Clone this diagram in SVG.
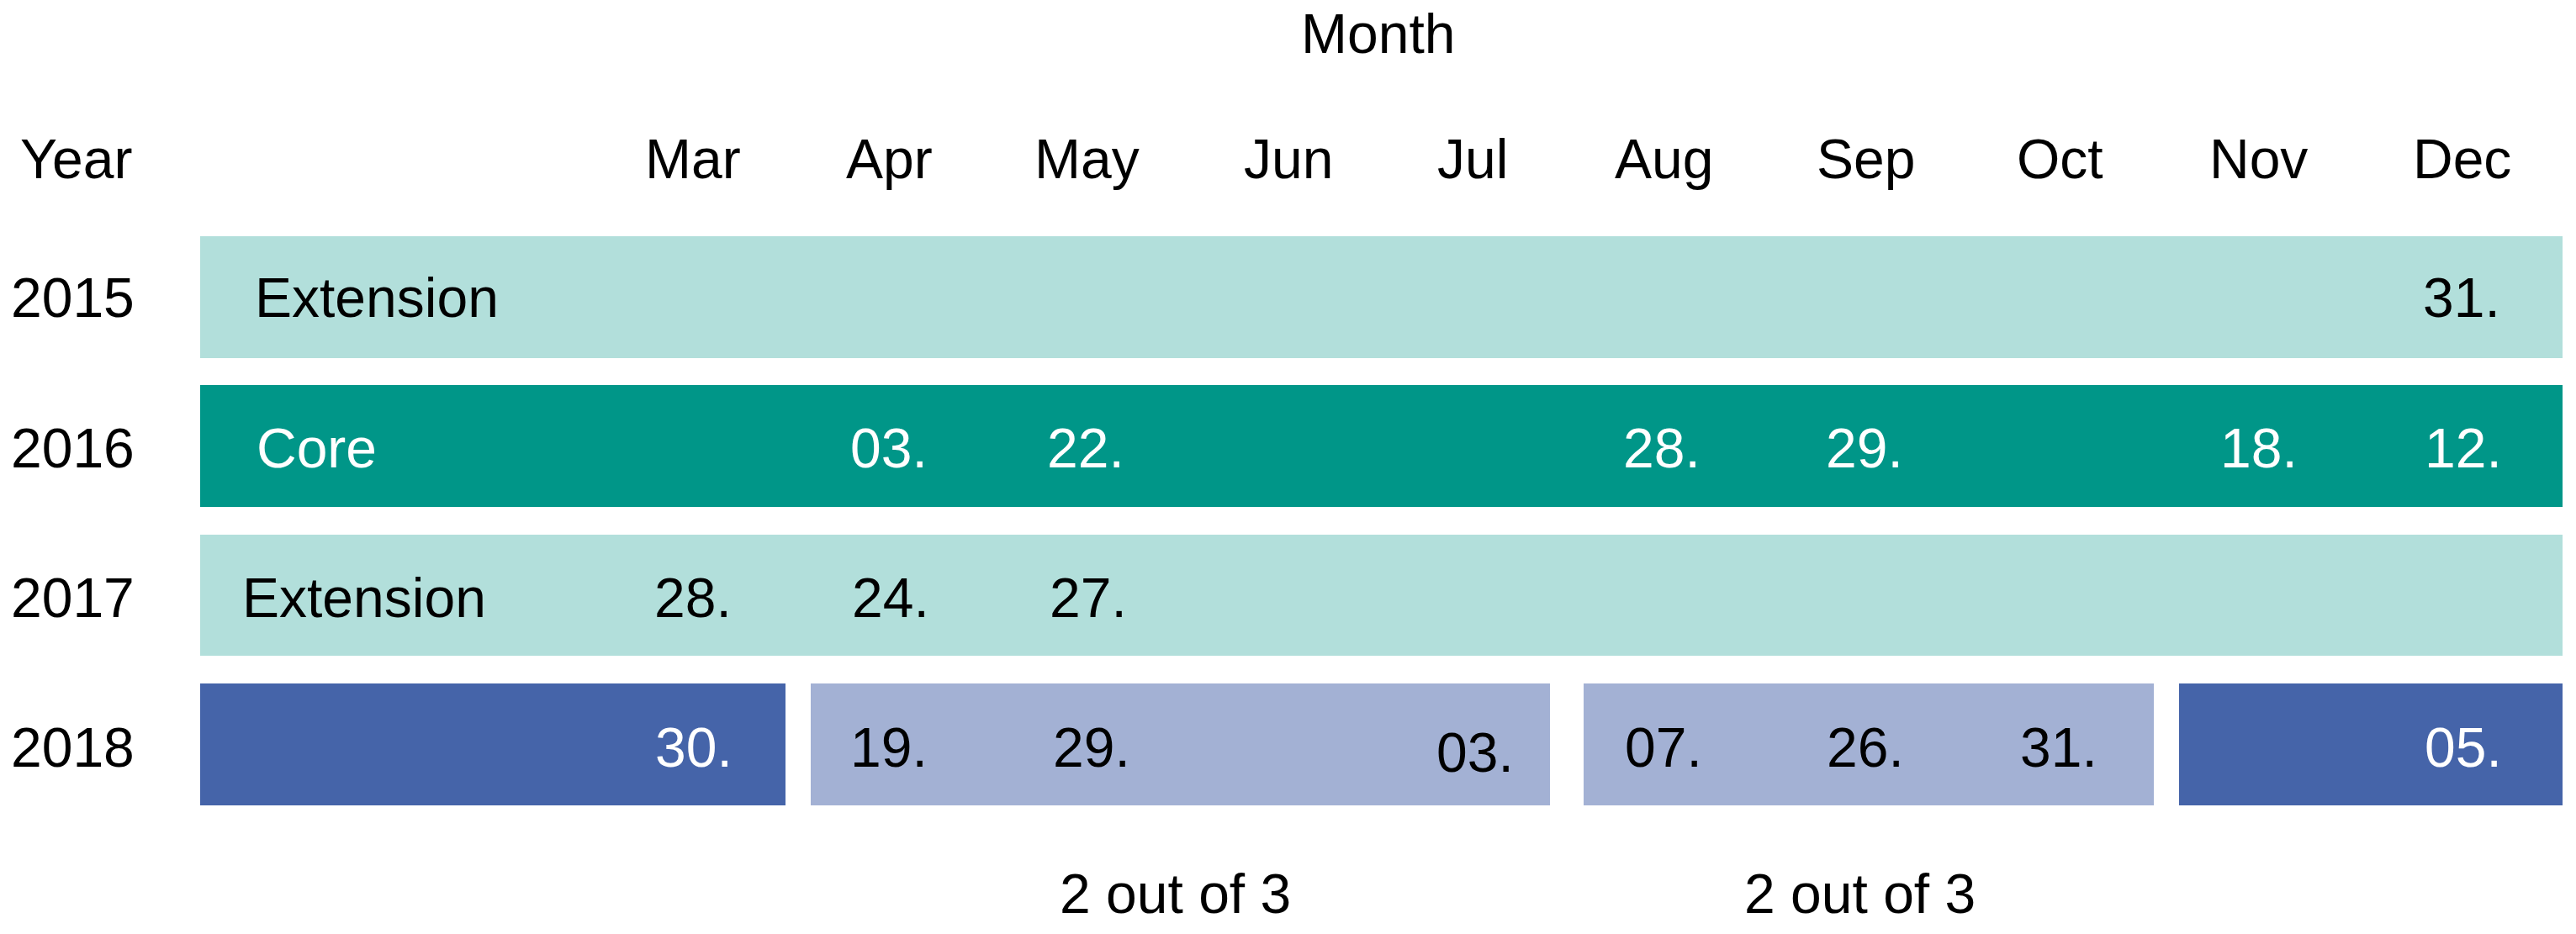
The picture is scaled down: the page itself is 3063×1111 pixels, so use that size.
<svg xmlns="http://www.w3.org/2000/svg" width="3063" height="1111" viewBox="0 0 3063 1111">
  <style>
    text { font-family: "Liberation Sans", Arial, Helvetica, sans-serif; font-size: 66px; fill: #000; }
    .w { fill: #fff; }
    .ext { fill: #b2dfdb; }
    .core { fill: #009688; }
    .dblue { fill: #4564a9; }
    .lblue { fill: #a3b1d4; }
  </style>
  <rect width="3063" height="1111" fill="#fff"/>
  <g id="header">
    <text x="1547" y="63">Month</text>
    <text x="24" y="212">Year</text>
    <text x="767" y="212">Mar</text>
    <text x="1006" y="212">Apr</text>
    <text x="1230" y="212">May</text>
    <text x="1479" y="212">Jun</text>
    <text x="1709" y="212">Jul</text>
    <text x="1920" y="212">Aug</text>
    <text x="2160" y="212">Sep</text>
    <text x="2398" y="212">Oct</text>
    <text x="2627" y="212">Nov</text>
    <text x="2869" y="212">Dec</text>
  </g>
  <g id="row2015">
    <text x="13" y="377">2015</text>
    <rect class="ext" x="238" y="281" width="2809" height="145"/>
    <text x="303" y="377">Extension</text>
    <text x="2881" y="377">31.</text>
  </g>
  <g id="row2016">
    <text x="13" y="556">2016</text>
    <rect class="core" x="238" y="458" width="2809" height="145"/>
    <text class="w" x="305" y="556">Core</text>
    <text class="w" x="1011" y="556">03.</text>
    <text class="w" x="1245" y="556">22.</text>
    <text class="w" x="1930" y="556">28.</text>
    <text class="w" x="2171" y="556">29.</text>
    <text class="w" x="2640" y="556">18.</text>
    <text class="w" x="2883" y="556">12.</text>
  </g>
  <g id="row2017">
    <text x="13" y="734">2017</text>
    <rect class="ext" x="238" y="636" width="2809" height="144"/>
    <text x="288" y="734">Extension</text>
    <text x="778" y="734">28.</text>
    <text x="1013" y="734">24.</text>
    <text x="1248" y="734">27.</text>
  </g>
  <g id="row2018">
    <text x="13" y="912">2018</text>
    <g id="seg2018a">
      <rect class="dblue" x="238" y="813" width="696" height="145"/>
      <text class="w" x="779" y="912">30.</text>
    </g>
    <g id="seg2018b">
      <rect class="lblue" x="964" y="813" width="879" height="145"/>
      <text x="1011" y="912">19.</text>
      <text x="1252" y="912">29.</text>
      <text x="1708" y="918">03.</text>
    </g>
    <g id="seg2018c">
      <rect class="lblue" x="1883" y="813" width="678" height="145"/>
      <text x="1932" y="912">07.</text>
      <text x="2172" y="912">26.</text>
      <text x="2402" y="912">31.</text>
    </g>
    <g id="seg2018d">
      <rect class="dblue" x="2591" y="813" width="456" height="145"/>
      <text class="w" x="2883" y="912">05.</text>
    </g>
  </g>
  <g id="footer">
    <text x="1260" y="1086">2 out of 3</text>
    <text x="2074" y="1086">2 out of 3</text>
  </g>
  <g id="connectors"/>
</svg>
